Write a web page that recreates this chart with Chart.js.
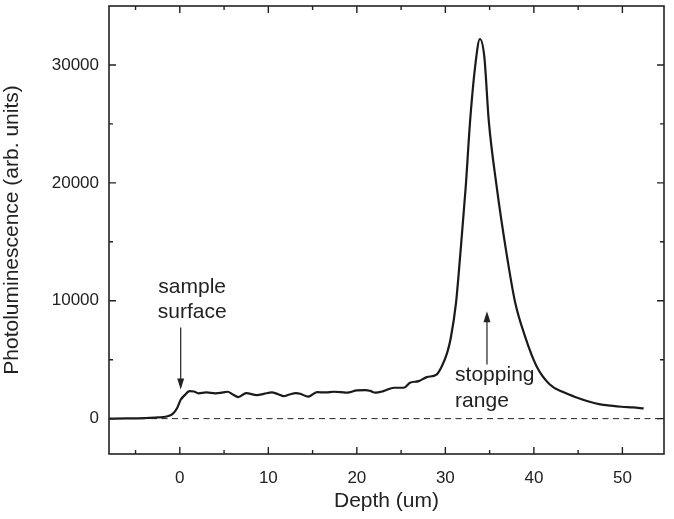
<!DOCTYPE html>
<html>
<head>
<meta charset="utf-8">
<script src="https://cdn.jsdelivr.net/npm/chart.js@4.4.1/dist/chart.umd.min.js"></script>
<style>
  body { margin: 0; background: #fff; }
  canvas { display: block; }
</style>
</head>
<body>
<canvas id="chart" width="674" height="519"></canvas>
<script>
// depth (um) and photoluminescence (arb. units)
const depth = [-8, -6, -4, -2.5, -1.5, -0.8, -0.3, 0.1, 0.5, 1.1, 1.6, 2.1, 3, 4, 4.6, 5.4, 6, 6.6, 7.5, 8.7, 9.5,
  10.4, 11, 11.7, 12.4, 13.1, 13.6, 14.5, 15.5, 16.5, 17.4, 18.2, 18.9, 20, 21, 21.5, 22.1, 23, 24.2, 25.3,
  26, 27, 27.9, 29, 29.6, 30.2, 30.6, 31.2, 31.7, 32.3, 32.8, 33.4, 33.9, 34.4, 34.9, 35.8, 36.9, 37.9,
  39, 40.3, 41.8, 43.3, 44.9, 46.2, 47.5, 48.7, 49.9, 51.2, 52.4];
const pl = [0, 20, 50, 100, 180, 400, 900, 1600, 1950, 2330, 2300, 2140, 2220, 2150, 2180, 2280, 2050, 1830, 2160, 2000, 2100,
  2220, 2100, 1910, 2050, 2160, 2110, 1860, 2250, 2220, 2280, 2250, 2200, 2390, 2420, 2350, 2200, 2330, 2620, 2620,
  3040, 3180, 3520, 3740, 4450, 5580, 6800, 9800, 14060, 19660, 25300, 30100, 32200, 30700, 25300, 19660, 14060, 9800,
  6980, 4450, 2900, 2250, 1770, 1450, 1210, 1100, 1010, 950, 870];

const xTicks = [0, 10, 20, 30, 40, 50];
const xMinor = [-5, 5, 15, 25, 35, 45];
const yTicks = [0, 10000, 20000, 30000];
const yMinor = [5000, 15000, 25000];

// text notes and arrows, in data units
const notes = [
  { lines: ["sample", "surface"], x: 1.4, y: [10680, 8560], align: "center" },
  { lines: ["stopping", "range"], x: 31.1, y: [3200, 960], align: "left" }
];
const arrows = [
  { x: 0.1, from: 7720, to: 2480 },
  { x: 34.7, from: 4590, to: 9100 }
];

const FONT = "'Liberation Sans', Arial, sans-serif";
const INK = "#222";

const framePlugin = {
  id: "frame",
  afterDraw(chart) {
    const { ctx, chartArea: a, scales: { x, y } } = chart;
    ctx.save();
    // zero line
    ctx.strokeStyle = INK;
    ctx.lineWidth = 1;
    ctx.setLineDash([6, 4.5]);
    ctx.beginPath();
    ctx.moveTo(a.left, y.getPixelForValue(0));
    ctx.lineTo(a.right, y.getPixelForValue(0));
    ctx.stroke();
    ctx.setLineDash([]);

    // box
    ctx.lineWidth = 1.6;
    ctx.strokeRect(a.left, a.top, a.right - a.left, a.bottom - a.top);

    // inward ticks
    ctx.lineWidth = 1.4;
    ctx.beginPath();
    const xt = (v, len) => {
      const p = x.getPixelForValue(v);
      ctx.moveTo(p, a.bottom); ctx.lineTo(p, a.bottom - len);
      ctx.moveTo(p, a.top); ctx.lineTo(p, a.top + len);
    };
    const yt = (v, len) => {
      const p = y.getPixelForValue(v);
      ctx.moveTo(a.left, p); ctx.lineTo(a.left + len, p);
      ctx.moveTo(a.right, p); ctx.lineTo(a.right - len, p);
    };
    xTicks.forEach(v => xt(v, 7));
    xMinor.forEach(v => xt(v, 4));
    yTicks.forEach(v => yt(v, 7));
    yMinor.forEach(v => yt(v, 4));
    ctx.stroke();

    // notes
    ctx.fillStyle = INK;
    ctx.font = "21px " + FONT;
    ctx.textBaseline = "alphabetic";
    notes.forEach(n => {
      ctx.textAlign = n.align;
      n.lines.forEach((t, i) => ctx.fillText(t, x.getPixelForValue(n.x), y.getPixelForValue(n.y[i])));
    });

    // arrows
    arrows.forEach(ar => {
      const px = x.getPixelForValue(ar.x);
      const p0 = y.getPixelForValue(ar.from);
      const p1 = y.getPixelForValue(ar.to);
      const dir = p1 > p0 ? 1 : -1;
      ctx.lineWidth = 1.2;
      ctx.beginPath();
      ctx.moveTo(px, p0);
      ctx.lineTo(px, p1 - dir * 8);
      ctx.stroke();
      ctx.beginPath();
      ctx.moveTo(px, p1);
      ctx.lineTo(px - 3.5, p1 - dir * 11);
      ctx.lineTo(px + 3.5, p1 - dir * 11);
      ctx.closePath();
      ctx.fill();
    });
    ctx.restore();
  }
};

new Chart(document.getElementById("chart"), {
  type: "scatter",
  data: {
    datasets: [{
      data: depth.map((d, i) => ({ x: d, y: pl[i] })),
      showLine: true,
      borderColor: "#1a1a1a",
      borderWidth: 2.2,
      pointRadius: 0,
      cubicInterpolationMode: "monotone"
    }]
  },
  options: {
    responsive: false,
    animation: false,
    events: [],
    layout: { padding: { top: 6, right: 10, left: 0, bottom: 0 } },
    plugins: { legend: { display: false }, tooltip: { enabled: false } },
    scales: {
      x: {
        type: "linear",
        min: -8,
        max: 54.7,
        afterBuildTicks: s => { s.ticks = xTicks.map(v => ({ value: v })); },
        afterFit: s => { s.height = 65; s.paddingLeft = 0; s.paddingRight = 0; },
        grid: { display: false, drawTicks: false },
        border: { display: false },
        ticks: { color: INK, font: { family: FONT, size: 17 }, padding: 14, maxRotation: 0, callback: v => String(v) },
        title: { display: true, text: "Depth (um)", color: INK, font: { family: FONT, size: 21 }, padding: { top: 0, bottom: 5 } }
      },
      y: {
        min: -3000,
        max: 35000,
        afterBuildTicks: s => { s.ticks = yTicks.map(v => ({ value: v })); },
        afterFit: s => { s.width = 109; s.paddingTop = 0; s.paddingBottom = 0; },
        grid: { display: false, drawTicks: false },
        border: { display: false },
        ticks: { color: INK, font: { family: FONT, size: 17 }, padding: 10, callback: v => String(v) },
        title: { display: true, text: "Photoluminescence (arb. units)", color: INK, font: { family: FONT, size: 21 }, padding: { top: 0, bottom: 12 } }
      }
    }
  },
  plugins: [framePlugin]
});
</script>
</body>
</html>
